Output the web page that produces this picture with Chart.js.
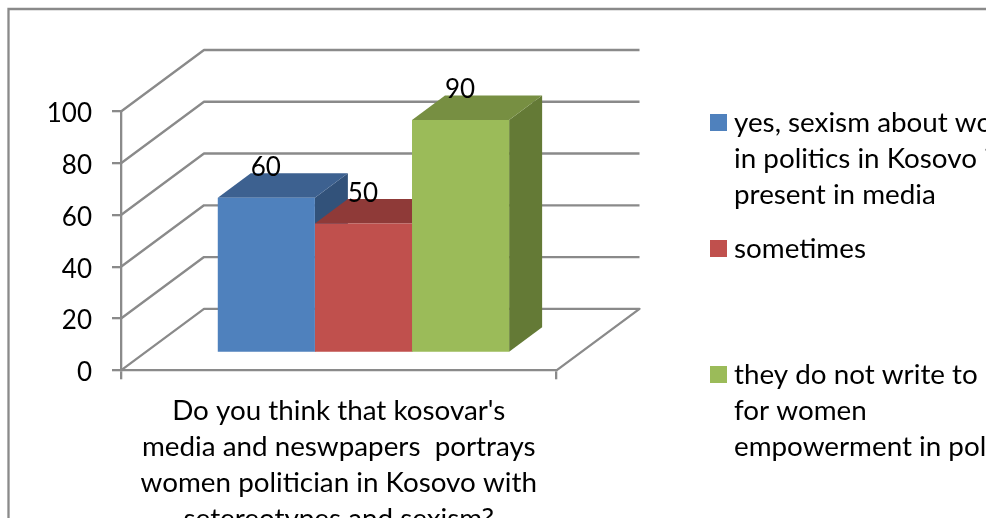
<!DOCTYPE html>
<html>
<head>
<meta charset="utf-8">
<style>
html,body{margin:0;padding:0;background:#fff;overflow:hidden}
#wrap{position:absolute;left:0;top:0;width:986px;height:518px;overflow:hidden}
canvas{display:block;filter:blur(0.4px)}
</style>
<script src="https://cdn.jsdelivr.net/npm/chart.js@4/dist/chart.umd.min.js"></script>
</head>
<body>
<div id="wrap"><canvas id="c" width="986" height="518"></canvas></div>
<script>
const categoryLines = ["Do you think that kosovar's", "media and neswpapers  portrays", "women politician in Kosovo with", "setereotypes and sexism?"];
const seriesNames = ["yes, sexism about women in politics in Kosovo is present in media", "sometimes", "they do not write to for women empowerment in politics"];
const seriesValues = [60, 50, 90];
const yTicks = [0, 20, 40, 60, 80, 100];
const legendLines = [
  ["yes, sexism about women", "in politics in Kosovo is", "present in media"],
  ["sometimes"],
  ["they do not write to", "for women", "empowerment in politics"]
];

const FONT = 'Lato, "Open Sans", sans-serif';
const FS = 27.8;
const NUM = 26;
const LINE = '#8a8a8a';
const LW = 2.3;
const front = ['#4F81BD', '#C0504D', '#9BBB59'];
const topFace = ['#3D6190', '#8F3A38', '#778F42'];
const sideFace = ['#32527A', '#7A312F', '#647A36'];
const wall = {dx: 83, dy: -61.5};
const barShift = {dx: 24.7, dy: -17.3};
const barDepth = {dx: 33, dy: -24.5};
const legendPos = [{sw: 114, text: 123}, {sw: 240, text: 249}, {sw: 366, text: 375}];

const plugin3d = {
  id: 'plugin3d',
  beforeDraw(chart) {
    const c = chart.ctx;
    c.save();
    c.strokeStyle = LINE; c.lineWidth = LW;
    c.beginPath(); c.moveTo(8.5, 518); c.lineTo(8.5, 9); c.lineTo(986, 9); c.stroke();
    c.restore();
  },
  beforeDatasetsDraw(chart) {
    const c = chart.ctx, y = chart.scales.y, a = chart.chartArea;
    c.save();
    c.strokeStyle = LINE; c.lineWidth = LW; c.lineJoin = 'round';
    yTicks.forEach(v => {
      const p = y.getPixelForValue(v);
      c.beginPath();
      c.moveTo(a.left, p);
      c.lineTo(a.left + wall.dx, p + wall.dy);
      c.lineTo(a.right + wall.dx, p + wall.dy);
      if (v === 0) c.lineTo(a.right, p);
      c.stroke();
    });
    chart.data.datasets.forEach((d, i) => {
      const el = chart.getDatasetMeta(i).data[0];
      const l = el.x - el.width / 2 + barShift.dx, r = el.x + el.width / 2 + barShift.dx;
      const t = el.y + barShift.dy, b = el.base + barShift.dy;
      c.fillStyle = sideFace[i];
      c.beginPath(); c.moveTo(r, t); c.lineTo(r + barDepth.dx, t + barDepth.dy);
      c.lineTo(r + barDepth.dx, b + barDepth.dy); c.lineTo(r, b); c.closePath(); c.fill();
      c.fillStyle = topFace[i];
      c.beginPath(); c.moveTo(l, t); c.lineTo(l + barDepth.dx, t + barDepth.dy);
      c.lineTo(r + barDepth.dx, t + barDepth.dy); c.lineTo(r, t); c.closePath(); c.fill();
    });
    c.restore();
    c.save();
    c.translate(barShift.dx, barShift.dy);
  },
  afterDatasetsDraw(chart) {
    const c = chart.ctx;
    c.restore();
    c.save();
    c.fillStyle = '#000';
    c.font = NUM + 'px ' + FONT;
    c.textAlign = 'center'; c.textBaseline = 'middle';
    chart.data.datasets.forEach((d, i) => {
      const el = chart.getDatasetMeta(i).data[0];
      c.fillText(String(d.data[0]), el.x + barShift.dx - 0.5, el.y + barShift.dy - 30);
    });
    c.font = FS + 'px ' + FONT;
    c.textAlign = 'left';
    legendLines.forEach((lines, i) => {
      c.fillStyle = front[i];
      c.fillRect(710, legendPos[i].sw, 17, 17);
      c.fillStyle = '#000';
      lines.forEach((t, k) => c.fillText(t, 734, legendPos[i].text + k * 36));
    });
    c.restore();
  }
};

new Chart(document.getElementById('c'), {
  type: 'bar',
  data: {
    labels: [categoryLines],
    datasets: seriesNames.map((n, i) => ({
      label: n,
      data: [seriesValues[i]],
      backgroundColor: front[i],
      borderWidth: 0,
      barPercentage: 1,
      categoryPercentage: 0.669,
      clip: false
    }))
  },
  options: {
    responsive: false,
    animation: false,
    events: [],
    layout: {padding: {left: 0, top: 111.5, right: 429.5, bottom: 0}},
    plugins: {legend: {display: false}, tooltip: {enabled: false}, title: {display: false}},
    scales: {
      x: {
        grid: {drawOnChartArea: false, color: LINE, lineWidth: LW, tickLength: 9, offset: true},
        border: {color: LINE, width: LW},
        ticks: {color: '#000', font: {family: FONT, size: FS, lineHeight: 36 / FS}, padding: 14, maxRotation: 0, autoSkip: false},
        afterFit(s) { s.height = 147.7; }
      },
      y: {
        min: 0, max: 100,
        afterBuildTicks(s) { s.ticks = yTicks.map(v => ({value: v})); },
        grid: {drawOnChartArea: false, color: LINE, lineWidth: LW, tickLength: 9},
        border: {color: LINE, width: LW},
        ticks: {color: '#000', font: {family: FONT, size: NUM}, padding: 20, labelOffset: 2.5},
        afterFit(s) { s.width = 121; }
      }
    }
  },
  plugins: [plugin3d]
});
</script>
</body>
</html>
